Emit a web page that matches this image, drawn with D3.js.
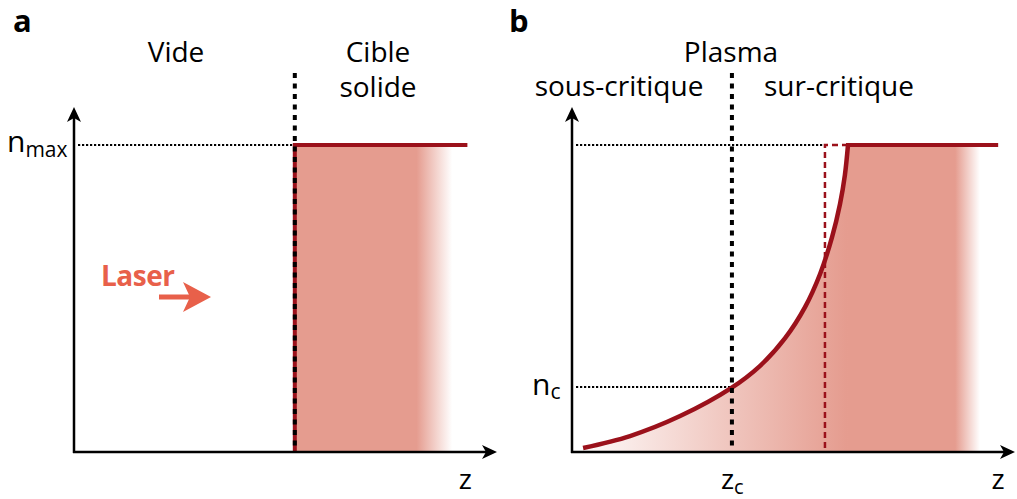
<!DOCTYPE html>
<html>
<head>
<meta charset="utf-8">
<script src="https://cdn.jsdelivr.net/npm/d3@7"></script>
<style>
  body { margin: 0; background: #fff; }
  svg { display: block; font-family: "Open Sans", sans-serif; }
</style>
</head>
<body>
<div class="chart"></div>
<script>
// density profiles, z in arbitrary units (axis length = 100), n normalised to n_max = 1
const panelA = {interface: 52.2, lineEnd: 93, fillEnd: 89.4, fadeStart: 81};
const nMax = 1;

// panel b: plasma gradient
const curveZ = [2.5, 13.1, 24.4, 35.9, 42.4, 48.1, 52.6, 56.0, 58.7, 60.5, 61.6, 62.3];
const curveN = [0.013, 0.052, 0.117, 0.208, 0.28, 0.371, 0.472, 0.58, 0.70, 0.808, 0.902, 1.0];
const zc = 36.1, nc = 0.212;
const zRel = 57.1;            // red dashed line
const lineEndB = 96.2, fillEndB = 92.1, fadeStartB = 86.5;

const red = "#9b111b", fillCol = "#e59c8f", laserCol = "#e8604a";

const width = 1017, height = 499;
const svg = d3.select(".chart").append("svg")
    .attr("width", width)
    .attr("height", height);

const yScale = d3.scaleLinear().domain([0, 1]).range([452, 145]);
const xA = d3.scaleLinear().domain([0, 100]).range([74, 497]);
const xB = d3.scaleLinear().domain([0, 100]).range([572, 1015]);

const defs = svg.append("defs");

// gradients
const gA = defs.append("linearGradient").attr("id", "gradA")
    .attr("gradientUnits", "userSpaceOnUse")
    .attr("x1", xA(panelA.interface)).attr("x2", xA(panelA.fillEnd))
    .attr("y1", 0).attr("y2", 0);
const tA = (xA(panelA.fadeStart) - xA(panelA.interface)) / (xA(panelA.fillEnd) - xA(panelA.interface));
gA.append("stop").attr("offset", 0).attr("stop-color", fillCol);
gA.append("stop").attr("offset", tA).attr("stop-color", fillCol);
gA.append("stop").attr("offset", 1).attr("stop-color", fillCol).attr("stop-opacity", 0);

const gB = defs.append("linearGradient").attr("id", "gradB")
    .attr("gradientUnits", "userSpaceOnUse")
    .attr("x1", xB(curveZ[0])).attr("x2", xB(fillEndB))
    .attr("y1", 0).attr("y2", 0);
const spanB = xB(fillEndB) - xB(curveZ[0]);
const off = z => (xB(z) - xB(curveZ[0])) / spanB;
gB.append("stop").attr("offset", 0).attr("stop-color", fillCol).attr("stop-opacity", 0.05);
gB.append("stop").attr("offset", off(62)).attr("stop-color", fillCol).attr("stop-opacity", 1);
gB.append("stop").attr("offset", off(fadeStartB)).attr("stop-color", fillCol).attr("stop-opacity", 1);
gB.append("stop").attr("offset", 1).attr("stop-color", fillCol).attr("stop-opacity", 0);

function arrowHead(g, x, y, dir) {
    // dir: "up" or "right"
    const L = 15, W = 7, notch = 4;
    let p;
    if (dir === "up") p = `M${x},${y} L${x + W},${y + L} L${x},${y + L - notch} L${x - W},${y + L} Z`;
    else p = `M${x},${y} L${x - L},${y - W} L${x - L + notch},${y} L${x - L},${y + W} Z`;
    g.append("path").attr("d", p).attr("fill", "#000");
}

function axes(g, xs) {
    const x0 = xs(0), y0 = yScale(0);
    g.append("line").attr("x1", x0).attr("x2", x0).attr("y1", y0 + 1).attr("y2", 112)
        .attr("stroke", "#000").attr("stroke-width", 2.5);
    arrowHead(g, x0, 107, "up");
    g.append("line").attr("x1", x0 - 1).attr("x2", xs(100) - 4).attr("y1", y0).attr("y2", y0)
        .attr("stroke", "#000").attr("stroke-width", 2.5);
    arrowHead(g, xs(100), y0, "right");
}

const dotted = {stroke: "#000", w: 2, dash: "2.2,1.8"};

// ---------------- panel a ----------------
const a = svg.append("g");
a.append("rect")
    .attr("x", xA(panelA.interface)).attr("y", yScale(nMax) + 2)
    .attr("width", xA(panelA.fillEnd) - xA(panelA.interface))
    .attr("height", yScale(0) - yScale(nMax) - 2)
    .attr("fill", "url(#gradA)");

a.append("line")
    .attr("x1", xA(0) + 4).attr("x2", xA(panelA.interface))
    .attr("y1", yScale(nMax)).attr("y2", yScale(nMax))
    .attr("stroke", dotted.stroke).attr("stroke-width", dotted.w).attr("stroke-dasharray", dotted.dash);

a.append("path")
    .attr("d", `M${xA(panelA.interface)},${yScale(0)} L${xA(panelA.interface)},${yScale(nMax)} L${xA(panelA.lineEnd)},${yScale(nMax)}`)
    .attr("fill", "none").attr("stroke", red).attr("stroke-width", 4);

a.append("line")
    .attr("x1", xA(panelA.interface)).attr("x2", xA(panelA.interface))
    .attr("y1", 73).attr("y2", yScale(0))
    .attr("stroke", "#000").attr("stroke-width", 4).attr("stroke-dasharray", "5,5.5");

axes(a, xA);

a.append("text").text("a").attr("x", 13).attr("y", 32)
    .attr("font-size", 31).attr("font-weight", "bold");
a.append("text").text("Vide").attr("x", 176).attr("y", 62)
    .attr("text-anchor", "middle").attr("font-size", 28);
a.append("text").text("Cible").attr("x", 378).attr("y", 62)
    .attr("text-anchor", "middle").attr("font-size", 28);
a.append("text").text("solide").attr("x", 378).attr("y", 97)
    .attr("text-anchor", "middle").attr("font-size", 28);

const nmax = a.append("text").attr("x", 7).attr("y", 152).attr("font-size", 30);
nmax.append("tspan").text("n");
nmax.append("tspan").text("max").attr("font-size", 21).attr("dy", 5);

a.append("text").text("z").attr("x", xA(92.5)).attr("y", 489)
    .attr("text-anchor", "middle").attr("font-size", 28);

a.append("text").text("Laser").attr("x", 101).attr("y", 286)
    .attr("font-size", 28).attr("font-weight", "bold").attr("fill", laserCol)
    .attr("letter-spacing", -0.5);
a.append("line").attr("x1", 159).attr("x2", 192).attr("y1", 297).attr("y2", 297)
    .attr("stroke", laserCol).attr("stroke-width", 5);
a.append("path").attr("d", "M211,297 L183,282 L190,297 L183,312 Z").attr("fill", laserCol);

// ---------------- panel b ----------------
const b = svg.append("g");
const pts = curveZ.map((z, i) => [z, curveN[i]]);

const area = d3.area()
    .x(d => xB(d[0]))
    .y0(yScale(0))
    .y1(d => yScale(d[1]))
    .curve(d3.curveCatmullRom.alpha(0.5));

b.append("path").datum(pts).attr("d", area).attr("fill", "url(#gradB)");
b.append("rect")
    .attr("x", xB(curveZ[curveZ.length - 1]) - 0.5).attr("y", yScale(nMax) + 2)
    .attr("width", xB(fillEndB) - xB(curveZ[curveZ.length - 1]) + 0.5)
    .attr("height", yScale(0) - yScale(nMax) - 2)
    .attr("fill", "url(#gradB)");

// dotted guides
b.append("line")
    .attr("x1", xB(0) + 4).attr("x2", xB(zRel))
    .attr("y1", yScale(nMax)).attr("y2", yScale(nMax))
    .attr("stroke", dotted.stroke).attr("stroke-width", dotted.w).attr("stroke-dasharray", dotted.dash);
b.append("line")
    .attr("x1", xB(0) + 4).attr("x2", xB(zc))
    .attr("y1", yScale(nc)).attr("y2", yScale(nc))
    .attr("stroke", dotted.stroke).attr("stroke-width", dotted.w).attr("stroke-dasharray", dotted.dash);

// red dashed relativistic line
b.append("path")
    .attr("d", `M${xB(curveZ[curveZ.length - 1])},${yScale(nMax)} L${xB(zRel)},${yScale(nMax)} L${xB(zRel)},${yScale(0)}`)
    .attr("fill", "none").attr("stroke", red).attr("stroke-width", 2.5).attr("stroke-dasharray", "6,4");

const line = d3.line().x(d => xB(d[0])).y(d => yScale(d[1])).curve(d3.curveCatmullRom.alpha(0.5));
b.append("path").datum(pts).attr("d", line)
    .attr("fill", "none").attr("stroke", red).attr("stroke-width", 4.5);
b.append("line")
    .attr("x1", xB(curveZ[curveZ.length - 1]) - 2).attr("x2", xB(lineEndB))
    .attr("y1", yScale(nMax)).attr("y2", yScale(nMax))
    .attr("stroke", red).attr("stroke-width", 4);

b.append("line")
    .attr("x1", xB(zc)).attr("x2", xB(zc))
    .attr("y1", 73).attr("y2", yScale(0))
    .attr("stroke", "#000").attr("stroke-width", 4).attr("stroke-dasharray", "5,5.5");

axes(b, xB);

b.append("text").text("b").attr("x", 509).attr("y", 32)
    .attr("font-size", 31).attr("font-weight", "bold");
b.append("text").text("Plasma").attr("x", 731).attr("y", 62)
    .attr("text-anchor", "middle").attr("font-size", 28);
b.append("text").text("sous-critique").attr("x", 619).attr("y", 96)
    .attr("text-anchor", "middle").attr("font-size", 28);
b.append("text").text("sur-critique").attr("x", 839).attr("y", 96)
    .attr("text-anchor", "middle").attr("font-size", 28);

const ncl = b.append("text").attr("x", 532).attr("y", 395).attr("font-size", 30);
ncl.append("tspan").text("n");
ncl.append("tspan").text("c").attr("font-size", 21).attr("dy", 4);

const zcl = b.append("text").attr("x", xB(zc) - 11).attr("y", 489).attr("font-size", 28);
zcl.append("tspan").text("z");
zcl.append("tspan").text("c").attr("font-size", 20).attr("dy", 5);

b.append("text").text("z").attr("x", xB(96.2)).attr("y", 489)
    .attr("text-anchor", "middle").attr("font-size", 28);
</script>
</body>
</html>
